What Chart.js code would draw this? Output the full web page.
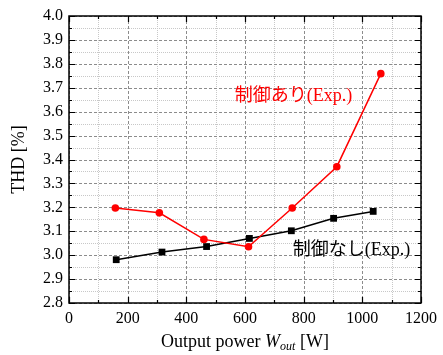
<!DOCTYPE html>
<html>
<head>
<meta charset="utf-8">
<script src="https://cdn.jsdelivr.net/npm/chart.js@4"></script>
<style>
  html, body { margin: 0; padding: 0; background: #fff; }
  #wrap { width: 443px; height: 355px; }
</style>
</head>
<body>
<div id="wrap"><canvas id="thd" width="443" height="355"></canvas></div>
<script>
// 制御あり (with control), red circles
const ctrlOnX = [158, 308, 460, 612, 761, 913, 1063];
const ctrlOnY = [3.197, 3.177, 3.066, 3.035, 3.197, 3.370, 3.759];
// 制御なし (without control), black squares
const ctrlOffX = [161, 317, 469, 615, 758, 902, 1037];
const ctrlOffY = [2.981, 3.013, 3.036, 3.070, 3.102, 3.154, 3.183];

const xRange = [0, 1200];
const yRange = [2.8, 4.0];
const xMajor = 200, xMinor = 100;
const yMajor = 0.1, yMinor = 0.05;

const labelOn = { text: "制御あり(Exp.)", x: 565, y: 3.664, color: "#ff0000" };
const labelOff = { text: "制御なし(Exp.)", x: 763, y: 3.02, color: "#000000" };

const serif = '"Liberation Serif", "Noto Sans CJK JP", serif';

function steps(lo, hi, step) {
  const n = Math.round((hi - lo) / step);
  const out = [];
  for (let i = 0; i <= n; i++) out.push(+(lo + i * step).toFixed(4));
  return out;
}

const framePlugin = {
  id: "frame",
  beforeDatasetsDraw(chart) {
    const { ctx, chartArea: a, scales: { x, y } } = chart;
    ctx.save();
    // minor grid, dotted
    ctx.strokeStyle = "#c8c8c8";
    ctx.lineWidth = 1;
    ctx.setLineDash([1, 1]);
    steps(xRange[0], xRange[1], xMinor).forEach((v, i) => {
      if (i % 2 === 0) return;
      const px = Math.round(x.getPixelForValue(v)) + 0.5;
      ctx.beginPath(); ctx.moveTo(px, a.top); ctx.lineTo(px, a.bottom); ctx.stroke();
    });
    steps(yRange[0], yRange[1], yMinor).forEach((v, i) => {
      if (i % 2 === 0) return;
      const py = Math.round(y.getPixelForValue(v)) + 0.5;
      ctx.beginPath(); ctx.moveTo(a.left, py); ctx.lineTo(a.right, py); ctx.stroke();
    });
    // major grid, dashed
    ctx.strokeStyle = "#8c8c8c";
    ctx.setLineDash([3, 2]);
    steps(xRange[0], xRange[1], xMajor).forEach((v) => {
      const px = Math.round(x.getPixelForValue(v)) + 0.5;
      ctx.beginPath(); ctx.moveTo(px, a.top); ctx.lineTo(px, a.bottom); ctx.stroke();
    });
    steps(yRange[0], yRange[1], yMajor).forEach((v) => {
      const py = Math.round(y.getPixelForValue(v)) + 0.5;
      ctx.beginPath(); ctx.moveTo(a.left, py); ctx.lineTo(a.right, py); ctx.stroke();
    });
    ctx.restore();
  },
  afterDatasetsDraw(chart) {
    const { ctx, chartArea: a, scales: { x, y } } = chart;
    ctx.save();
    ctx.setLineDash([]);
    ctx.strokeStyle = "#000";
    ctx.lineWidth = 1.2;
    // inward ticks on all four sides
    steps(xRange[0], xRange[1], xMinor).forEach((v, i) => {
      const len = i % 2 === 0 ? 6 : 3;
      const px = Math.round(x.getPixelForValue(v)) + 0.5;
      ctx.beginPath();
      ctx.moveTo(px, a.bottom); ctx.lineTo(px, a.bottom - len);
      ctx.moveTo(px, a.top); ctx.lineTo(px, a.top + len);
      ctx.stroke();
    });
    steps(yRange[0], yRange[1], yMinor).forEach((v, i) => {
      const len = i % 2 === 0 ? 6 : 3;
      const py = Math.round(y.getPixelForValue(v)) + 0.5;
      ctx.beginPath();
      ctx.moveTo(a.left, py); ctx.lineTo(a.left + len, py);
      ctx.moveTo(a.right, py); ctx.lineTo(a.right - len, py);
      ctx.stroke();
    });
    // frame
    ctx.lineWidth = 1.5;
    ctx.strokeRect(a.left, a.top, a.right - a.left, a.bottom - a.top);

    // series labels
    ctx.font = "18px " + serif;
    ctx.textBaseline = "middle";
    ctx.textAlign = "left";
    [labelOn, labelOff].forEach((l) => {
      ctx.fillStyle = l.color;
      ctx.fillText(l.text, x.getPixelForValue(l.x), y.getPixelForValue(l.y));
    });

    // axis titles
    ctx.fillStyle = "#000";
    ctx.font = "18px " + serif;
    ctx.save();
    ctx.translate(19, (a.top + a.bottom) / 2);
    ctx.rotate(-Math.PI / 2);
    ctx.textAlign = "center";
    ctx.fillText("THD [%]", 0, 0);
    ctx.restore();

    const parts = [
      { t: "Output power ", f: "18px " + serif, dy: 0 },
      { t: "W", f: "italic 18px " + serif, dy: 0 },
      { t: "out", f: "italic 12px " + serif, dy: 5 },
      { t: " [W]", f: "18px " + serif, dy: 0 },
    ];
    let total = 0;
    parts.forEach((p) => { ctx.font = p.f; total += ctx.measureText(p.t).width; });
    let cx = (a.left + a.right) / 2 - total / 2;
    const cy = 342;
    ctx.textAlign = "left";
    parts.forEach((p) => {
      ctx.font = p.f;
      ctx.fillText(p.t, cx, cy + p.dy);
      cx += ctx.measureText(p.t).width;
    });
    ctx.restore();
  },
};

new Chart(document.getElementById("thd"), {
  type: "scatter",
  data: {
    datasets: [
      {
        label: "制御あり(Exp.)",
        data: ctrlOnX.map((v, i) => ({ x: v, y: ctrlOnY[i] })),
        showLine: true,
        borderColor: "#ff0000",
        backgroundColor: "#ff0000",
        borderWidth: 1.5,
        pointStyle: "circle",
        pointRadius: 3.8,
        pointBorderWidth: 0,
      },
      {
        label: "制御なし(Exp.)",
        data: ctrlOffX.map((v, i) => ({ x: v, y: ctrlOffY[i] })),
        showLine: true,
        borderColor: "#000000",
        backgroundColor: "#000000",
        borderWidth: 1.5,
        pointStyle: "rect",
        pointRadius: 4.8,
        pointBorderWidth: 0,
      },
    ],
  },
  options: {
    responsive: false,
    animation: false,
    layout: { padding: { left: 0, right: 17, top: 16, bottom: 0 } },
    plugins: { legend: { display: false }, tooltip: { enabled: false } },
    scales: {
      x: {
        type: "linear",
        min: xRange[0],
        max: xRange[1],
        grid: { display: false, drawTicks: false },
        border: { display: false },
        ticks: {
          stepSize: xMajor,
          color: "#000",
          padding: 6,
          maxRotation: 0,
          font: { family: serif, size: 16 },
          callback: (v) => String(v),
        },
        afterFit: (s) => { s.height = 52; },
      },
      y: {
        type: "linear",
        min: yRange[0],
        max: yRange[1],
        grid: { display: false, drawTicks: false },
        border: { display: false },
        ticks: {
          stepSize: yMajor,
          color: "#000",
          padding: 6,
          font: { family: serif, size: 16 },
          callback: (v) => v.toFixed(1),
        },
        afterFit: (s) => { s.width = 69; },
      },
    },
  },
  plugins: [framePlugin],
});
</script>
</body>
</html>
